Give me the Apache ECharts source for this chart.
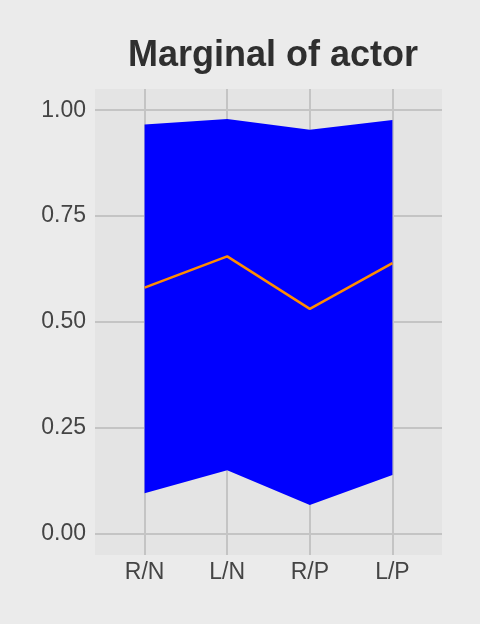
<!DOCTYPE html>
<html>
<head>
<meta charset="utf-8">
<script src="https://cdn.jsdelivr.net/npm/echarts@6/dist/echarts.min.js"></script>
<style>
  html, body { margin: 0; padding: 0; background: #EBEBEB; }
  #chart { width: 480px; height: 624px; }
</style>
</head>
<body>
<div id="chart"></div>
<script>
const categories = ['R/N', 'L/N', 'R/P', 'L/P'];
const lowerValues = [0.096, 0.150, 0.068, 0.139];
const upperValues = [0.966, 0.979, 0.954, 0.977];
const meanValues = [0.581, 0.655, 0.531, 0.639];
const yTicks = [0, 0.25, 0.5, 0.75, 1];
const titleText = 'Marginal of actor';

const xIdx = categories.map((c, i) => i + 1);
const bandData = categories.map((c, i) => [xIdx[i], lowerValues[i], upperValues[i]]);
const meanData = meanValues.map((v, i) => [xIdx[i], v]);

const chart = echarts.init(document.getElementById('chart'), null, { renderer: 'canvas' });
const gridColor = '#C4C4C4';
const textFont = 'Liberation Sans, Arial, Helvetica, sans-serif';

function renderBand(params, api) {
  if (params.dataIndex !== 0) return null;
  const top = bandData.map(d => api.coord([d[0], d[2]]));
  const bottom = bandData.map(d => api.coord([d[0], d[1]])).reverse();
  return {
    type: 'polygon',
    shape: { points: top.concat(bottom) },
    style: { fill: '#0000FF', stroke: null }
  };
}

chart.setOption({
  backgroundColor: '#EBEBEB',
  animation: false,
  title: {
    text: titleText,
    left: 268,
    top: 33,
    textAlign: 'center',
    textStyle: { fontSize: 36, fontWeight: 'bold', color: '#2F2F2F', fontFamily: textFont }
  },
  grid: {
    left: 95, right: 38, top: 89, bottom: 69,
    show: true, backgroundColor: '#E4E4E4', borderWidth: 0
  },
  xAxis: {
    type: 'value',
    min: 0.4, max: 4.6,
    axisLine: { show: false },
    axisTick: { show: false, customValues: xIdx },
    axisLabel: {
      customValues: xIdx,
      formatter: v => categories[Math.round(v) - 1] || '',
      fontSize: 23, color: '#444', fontFamily: textFont, margin: 6
    },
    splitLine: { show: true, lineStyle: { color: gridColor, width: 2 } }
  },
  yAxis: {
    type: 'value',
    min: -0.05, max: 1.05,
    axisLine: { show: false },
    axisTick: { show: false, customValues: yTicks },
    axisLabel: {
      customValues: yTicks,
      formatter: v => v.toFixed(2),
      fontSize: 23, color: '#444', fontFamily: textFont, margin: 9
    },
    splitLine: { show: true, lineStyle: { color: gridColor, width: 2 } }
  },
  series: [
    {
      type: 'custom',
      data: bandData,
      encode: { x: 0, y: [1, 2] },
      renderItem: renderBand,
      silent: true,
      z: 3
    },
    {
      type: 'line', data: meanData, symbol: 'none', z: 5,
      lineStyle: { color: '#FF8C00', width: 2.5 }
    }
  ]
});
</script>
</body>
</html>
